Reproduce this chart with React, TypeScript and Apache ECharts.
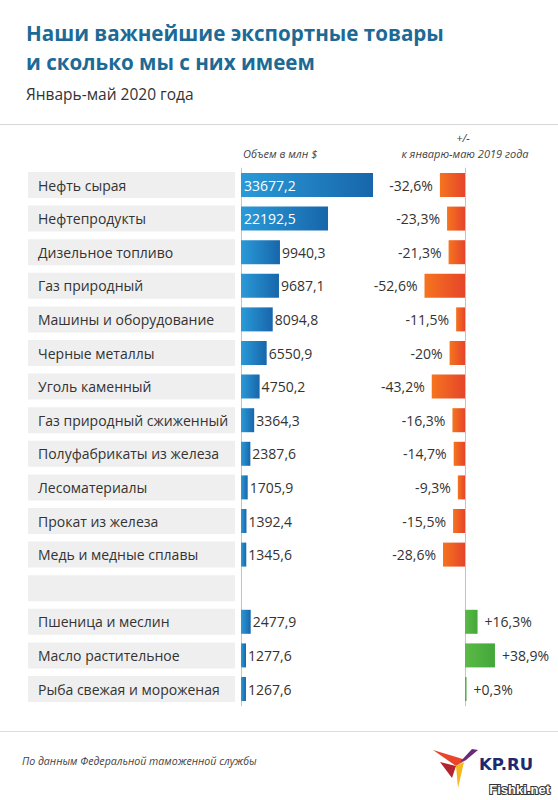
import React, { useEffect, useRef } from "react";
import * as echarts from "echarts";

const categories = [
  "Нефть сырая",
  "Нефтепродукты",
  "Дизельное топливо",
  "Газ природный",
  "Машины и оборудование",
  "Черные металлы",
  "Уголь каменный",
  "Газ природный сжиженный",
  "Полуфабрикаты из железа",
  "Лесоматериалы",
  "Прокат из железа",
  "Медь и медные сплавы",
  " ",
  "Пшеница и меслин",
  "Масло растительное",
  "Рыба свежая и мороженая",
];

const volumes: (number | null)[] = [
  33677.2, 22192.5, 9940.3, 9687.1, 8094.8, 6550.9, 4750.2, 3364.3, 2387.6, 1705.9,
  1392.4, 1345.6, null, 2477.9, 1277.6, 1267.6,
];

const changes: (number | null)[] = [
  -32.6, -23.3, -21.3, -52.6, -11.5, -20, -43.2, -16.3, -14.7, -9.3, -15.5, -28.6, null,
  16.3, 38.9, 0.3,
];

const titleLines = ["Наши важнейшие экспортные товары", "и сколько мы с них имеем"];
const subtitle = "Январь-май 2020 года";
const volumeHeader = "Объем в млн $";
const changeHeader1 = "+/-";
const changeHeader2 = "к январю-маю 2019 года";
const sourceText = "По данным Федеральной таможенной службы";

const FONT = "'Open Sans', 'Noto Sans', sans-serif";

const fmtVol = (v: number) => v.toFixed(1).replace(".", ",");
const fmtPct = (v: number) => (v > 0 ? "+" : "") + String(v).replace(".", ",") + "%";

export default function App() {
  const ref = useRef<HTMLDivElement>(null);
  useEffect(() => {
    if (!ref.current) return;
    const chart = echarts.init(ref.current, null, { renderer: "svg" });

    const blue = new echarts.graphic.LinearGradient(0, 0, 1, 0, [
      { offset: 0, color: "#2b9ad8" },
      { offset: 1, color: "#1766aa" },
    ]);
    const orange = new echarts.graphic.LinearGradient(0, 0, 1, 0, [
      { offset: 0, color: "#f5741f" },
      { offset: 1, color: "#e6452a" },
    ]);
    const green = new echarts.graphic.LinearGradient(0, 0, 1, 0, [
      { offset: 0, color: "#5cba46" },
      { offset: 1, color: "#42a73a" },
    ]);

    const top = 168.2;
    const height = 537.6;

    const volData = volumes.map((v, i) => {
      if (v == null) return { value: null };
      const inside = i < 2;
      return {
        value: v,
        label: inside
          ? { position: "insideLeft", color: "#ffffff", distance: 3 }
          : { position: "right", color: "#333333", distance: 2 },
      };
    });

    const chgData = changes.map((v) => {
      if (v == null) return { value: null };
      return {
        value: v,
        itemStyle: { color: v < 0 ? orange : green },
        label: { position: v < 0 ? "left" : "right", distance: 7, color: "#333333" },
      };
    });

    chart.setOption({
      animation: false,
      backgroundColor: "#ffffff",
      grid: [
        { left: 241, top, width: 196, height },
        { left: 418.8, top, width: 92.4, height },
      ],
      xAxis: [
        { type: "value", gridIndex: 0, min: 0, max: 50000, show: false },
        { type: "value", gridIndex: 1, min: -60, max: 60, show: false },
      ],
      yAxis: [
        {
          type: "category",
          gridIndex: 0,
          inverse: true,
          data: categories,
          axisTick: { show: false },
          axisLine: { lineStyle: { color: "#c4c4c4", width: 1 } },
          axisLabel: {
            align: "left",
            margin: 213,
            color: "#333333",
            fontFamily: FONT,
            fontSize: 14,
            backgroundColor: "#efefef",
            width: 197,
            height: 26,
            lineHeight: 26,
            padding: [0, 0, 0, 10],
          },
        },
        {
          type: "category",
          gridIndex: 1,
          inverse: true,
          data: categories,
          axisTick: { show: false },
          axisLabel: { show: false },
          axisLine: { onZero: true, lineStyle: { color: "#c4c4c4", width: 1 } },
        },
      ],
      series: [
        {
          type: "bar",
          xAxisIndex: 0,
          yAxisIndex: 0,
          barWidth: 24,
          itemStyle: { color: blue },
          data: volData,
          label: {
            show: true,
            fontFamily: FONT,
            fontSize: 14,
            formatter: (p: any) => (p.value == null ? "" : fmtVol(p.value)),
          },
        },
        {
          type: "bar",
          xAxisIndex: 1,
          yAxisIndex: 1,
          barWidth: 24,
          barMinHeight: 1.5,
          data: chgData,
          label: {
            show: true,
            fontFamily: FONT,
            fontSize: 14,
            formatter: (p: any) => (p.value == null ? "" : fmtPct(p.value)),
          },
        },
      ],
      graphic: [
        {
          type: "text",
          left: 26,
          top: 22,
          style: { text: titleLines[0], font: `bold 20.6px ${FONT}`, fill: "#1c6a95" },
        },
        {
          type: "text",
          left: 26,
          top: 51,
          style: { text: titleLines[1], font: `bold 20.6px ${FONT}`, fill: "#1c6a95" },
        },
        {
          type: "text",
          left: 26,
          top: 86,
          style: { text: subtitle, font: `15.5px ${FONT}`, fill: "#333333" },
        },
        {
          type: "line",
          shape: { x1: 0, y1: 124.5, x2: 558, y2: 124.5 },
          style: { stroke: "#d8d8d8", lineWidth: 1 },
        },
        {
          type: "text",
          x: 243,
          y: 153,
          style: {
            text: volumeHeader,
            font: `italic 11px ${FONT}`,
            fill: "#444444",
            verticalAlign: "middle",
          },
        },
        {
          type: "text",
          x: 463,
          y: 137,
          style: {
            text: changeHeader1,
            font: `italic 11px ${FONT}`,
            fill: "#444444",
            align: "center",
            verticalAlign: "middle",
          },
        },
        {
          type: "text",
          x: 465,
          y: 153,
          style: {
            text: changeHeader2,
            font: `italic 11px ${FONT}`,
            fill: "#444444",
            align: "center",
            verticalAlign: "middle",
          },
        },
        {
          type: "line",
          shape: { x1: 0, y1: 731.5, x2: 558, y2: 731.5 },
          style: { stroke: "#dddddd", lineWidth: 1 },
        },
        {
          type: "text",
          x: 22,
          y: 761,
          style: {
            text: sourceText,
            font: `italic 10.6px ${FONT}`,
            fill: "#444444",
            verticalAlign: "middle",
          },
        },
        {
          type: "polygon",
          shape: { points: [[433, 750], [466, 760], [456, 766]] },
          style: { fill: "#e8452a" },
        },
        {
          type: "polygon",
          shape: { points: [[440, 762], [456, 766], [452, 778]] },
          style: { fill: "#b3252e" },
        },
        {
          type: "polygon",
          shape: { points: [[456, 766], [464, 762], [458, 788]] },
          style: { fill: "#f4b81c" },
        },
        {
          type: "polygon",
          shape: { points: [[460, 762], [472, 749], [478, 750], [466, 760]] },
          style: { fill: "#6a2a7a" },
        },
        {
          type: "text",
          x: 479,
          y: 764,
          style: {
            text: "KP.RU",
            font: "900 16.5px 'DejaVu Sans', sans-serif",
            fill: "#1e2a6e",
            verticalAlign: "middle",
          },
        },
        {
          type: "text",
          x: 550,
          y: 789,
          style: {
            text: "Fishki.net",
            font: "bold 13px 'Liberation Sans', sans-serif",
            fill: "#ffffff",
            stroke: "#333333",
            lineWidth: 2,
            align: "right",
            verticalAlign: "middle",
          },
        },
      ],
    });
    return () => chart.dispose();
  }, []);
  return (
    <div
      ref={ref}
      style={{ position: "fixed", left: 0, top: 0, width: 558, height: 800 }}
    />
  );
}
